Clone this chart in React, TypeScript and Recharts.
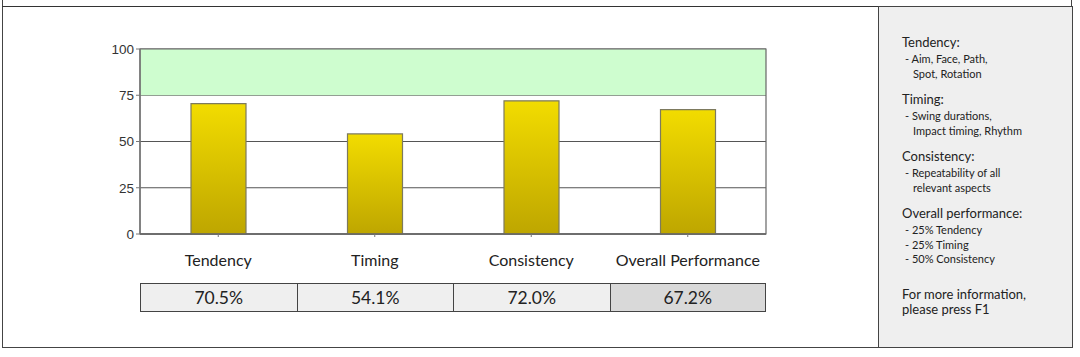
import React from 'react';
import { BarChart, Bar, XAxis, YAxis, CartesianGrid, ReferenceArea } from 'recharts';

const categories = ['Tendency', 'Timing', 'Consistency', 'Overall Performance'];
const scores = [70.5, 54.1, 72.0, 67.2];
const percentLabels = ['70.5%', '54.1%', '72.0%', '67.2%'];
const yTicks = [0, 25, 50, 75, 100];
const targetLow = 75;
const targetHigh = 100;

const infoSections = [
  { title: 'Tendency:', lines: [['- Aim, Face, Path,', false], ['Spot, Rotation', true]] },
  { title: 'Timing:', lines: [['- Swing durations,', false], ['Impact timing, Rhythm', true]] },
  { title: 'Consistency:', lines: [['- Repeatability of all', false], ['relevant aspects', true]] },
  { title: 'Overall performance:', lines: [['- 25% Tendency', false], ['- 25% Timing', false], ['- 50% Consistency', false]] },
];
const footerLines = ['For more information,', 'please press F1'];

const data = categories.map((name, i) => ({ name, score: scores[i], label: percentLabels[i] }));

const W = 1080;
const H = 357;
const PLOT_LEFT = 140;
const PLOT_RIGHT = 766;
const PLOT_TOP = 49;
const PLOT_BOTTOM = 234;
const FONT = 'Lato, "Open Sans", sans-serif';

export default function App() {
  const band = (PLOT_RIGHT - PLOT_LEFT) / categories.length;
  return (
    <div style={{ position: 'absolute', left: 0, top: 0, width: W, height: H, background: '#fff', overflow: 'hidden', fontFamily: FONT }}>
      {/* outer frame */}
      <div style={{ position: 'absolute', left: 2, top: -10, width: 1070, height: 358, border: '1.5px solid #444', boxSizing: 'border-box' }} />
      <div style={{ position: 'absolute', left: 2, top: 6, width: 1070, height: 0, borderTop: '1.5px solid #333' }} />
      {/* right info panel */}
      <div style={{ position: 'absolute', left: 878, top: 6, width: 195, height: 342, background: '#efefef', border: '1.5px solid #444', boxSizing: 'border-box', color: '#222' }}>
        <div style={{ position: 'absolute', left: 23, top: 27, width: 170 }}>
          {infoSections.map((s, i) => (
            <div key={i} style={{ marginBottom: 10 }}>
              <div style={{ fontSize: 13, lineHeight: '16px', marginBottom: 2 }}>{s.title}</div>
              {s.lines.map((l, j) => (
                <div key={j} style={{ fontSize: 11, lineHeight: '14.5px', paddingLeft: l[1] ? 11 : 3 }}>{l[0] as string}</div>
              ))}
            </div>
          ))}
          <div style={{ marginTop: 20 }}>
            {footerLines.map((l, i) => (
              <div key={i} style={{ fontSize: 13, lineHeight: '15px' }}>{l}</div>
            ))}
          </div>
        </div>
      </div>
      {/* chart */}
      <div style={{ position: 'absolute', left: 0, top: 0 }}>
        <BarChart
          width={W}
          height={H}
          data={data}
          margin={{ top: PLOT_TOP, left: PLOT_LEFT - 40, right: W - PLOT_RIGHT, bottom: H - PLOT_BOTTOM - 30 }}
          barCategoryGap={0}
        >
          <defs>
            <linearGradient id="barGrad" x1="0" y1="0" x2="0" y2="1">
              <stop offset="0%" stopColor="#f2dc00" />
              <stop offset="100%" stopColor="#bea600" />
            </linearGradient>
          </defs>
          <ReferenceArea y1={targetLow} y2={targetHigh} fill="#cefdcf" fillOpacity={1} stroke="none" ifOverflow="visible" />
          <CartesianGrid vertical={false} stroke="#555" strokeWidth={1.2} />
          <ReferenceArea y1={0} y2={targetHigh} fill="none" stroke="#666" strokeWidth={1.2} ifOverflow="visible" />
          <YAxis
            width={40}
            domain={[0, 100]}
            ticks={yTicks}
            interval={0}
            tickSize={4}
            tickMargin={2}
            axisLine={{ stroke: '#777', strokeWidth: 1.5 }}
            tickLine={{ stroke: '#777' }}
            tick={{ fill: '#333', fontSize: 13.5, fontFamily: 'Arial, "Liberation Sans", sans-serif' }}
          />
          <XAxis
            dataKey="name"
            height={30}
            tickSize={3}
            tickMargin={18}
            axisLine={{ stroke: '#666', strokeWidth: 1.5 }}
            tickLine={{ stroke: '#777' }}
            tick={{ fill: '#222', fontSize: 16, fontFamily: FONT }}
          />
          <Bar dataKey="score" barSize={55} fill="url(#barGrad)" stroke="#7d7a5e" strokeWidth={1.2} isAnimationActive={false} />
        </BarChart>
      </div>
      {/* value table */}
      {data.map((d, i) => (
        <div
          key={d.name}
          style={{
            position: 'absolute',
            left: PLOT_LEFT + band * i,
            top: 283,
            width: band + (i === data.length - 1 ? 0 : 1),
            height: 29,
            boxSizing: 'border-box',
            border: '1.2px solid #444',
            background: i === data.length - 1 ? '#d9d9d9' : '#efefef',
            textAlign: 'center',
            lineHeight: '27px',
            fontSize: 17.5,
            color: '#222',
          }}
        >
          {d.label}
        </div>
      ))}
    </div>
  );
}
